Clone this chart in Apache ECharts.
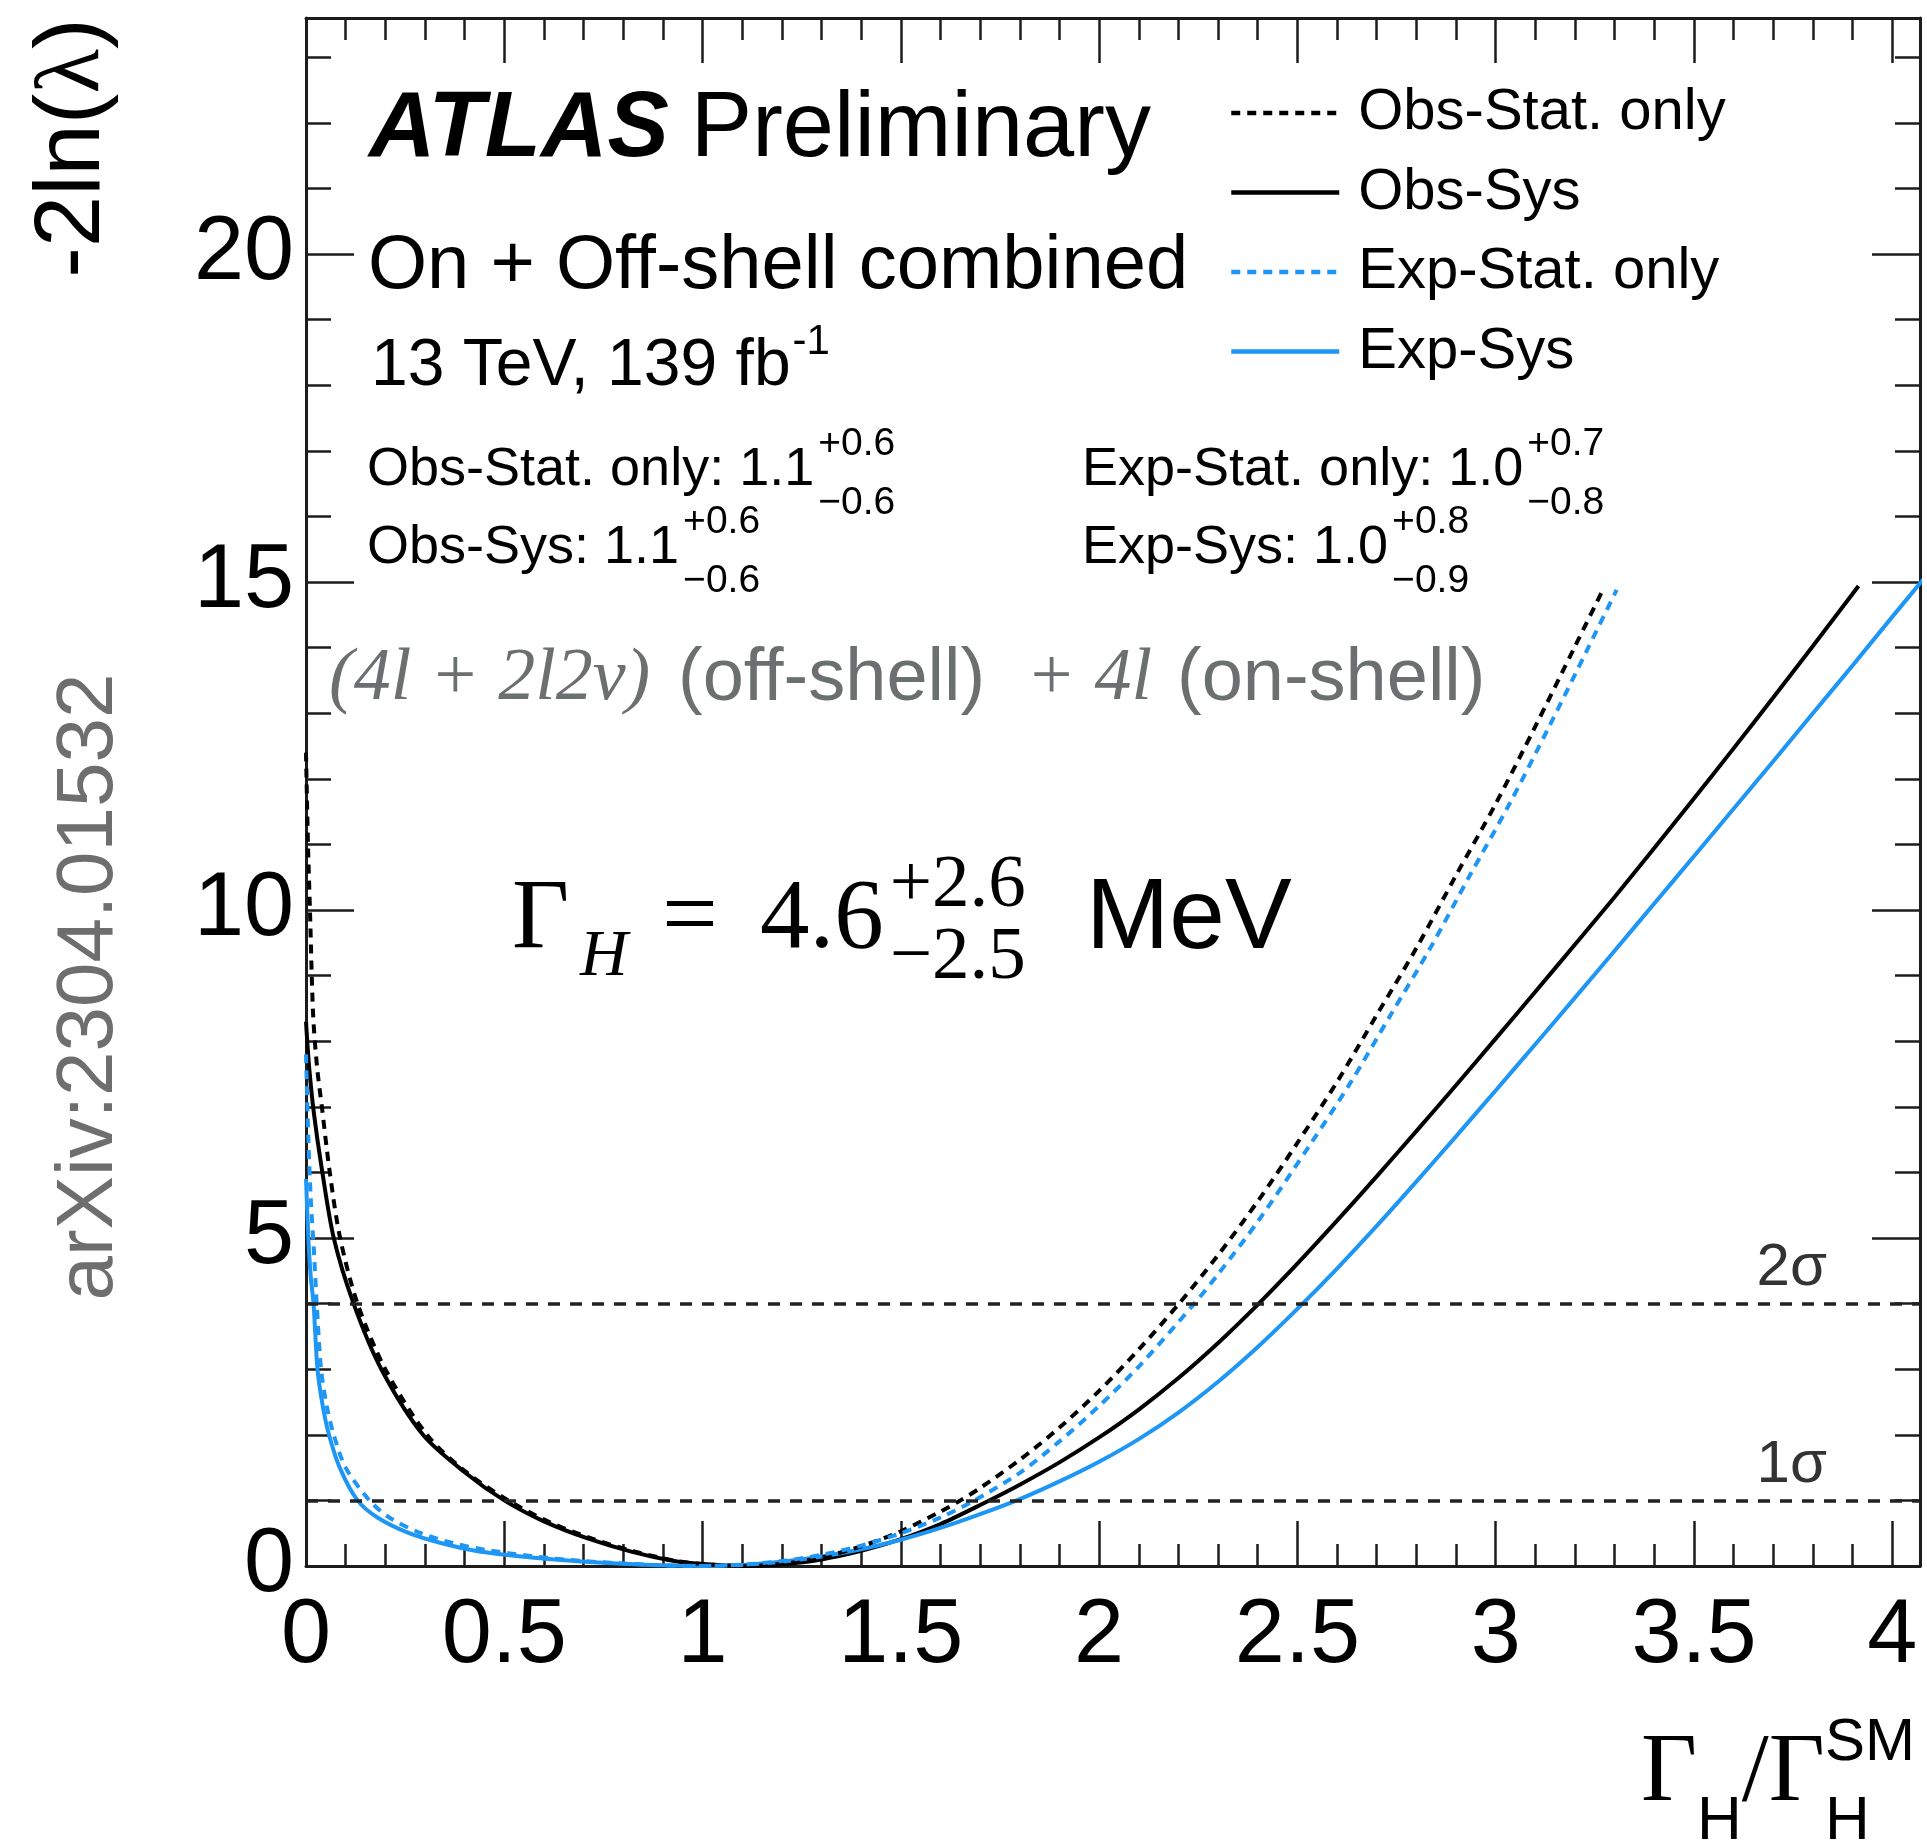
<!DOCTYPE html>
<html>
<head>
<meta charset="utf-8">
<script src="https://cdn.jsdelivr.net/npm/echarts@6/dist/echarts.min.js"></script>
<style>
  html, body { margin: 0; padding: 0; background: #ffffff; }
  #chart { width: 1927px; height: 1848px; }
</style>
</head>
<body>
<div id="chart"></div>
<script>
// Likelihood scans of the Higgs width ratio: [Gamma_H / Gamma_H^SM, -2 ln(lambda)]
const obsStat = [[0.0,12.4],[0.005,11.0],[0.01,10.0],[0.018,8.4],[0.028,7.6],[0.04,7.0],[0.06,6.0],[0.086,5.0],[0.13,4.0],[0.2,3.0],[0.305,2.0],[0.4,1.45],[0.51,1.0],[0.61,0.68],[0.72,0.42],[0.83,0.22],[0.93,0.08],[1.0,0.03],[1.1,0.0],[1.2,0.033],[1.3,0.13],[1.4,0.30],[1.5,0.53],[1.6,0.83],[1.65,1.0],[1.7,1.19],[1.8,1.62],[1.9,2.11],[2.0,2.67],[2.1,3.30],[2.2,3.99],[2.3,4.74],[2.4,5.56],[2.5,6.45],[2.6,7.38],[2.7,8.40],[2.8,9.42],[2.9,10.53],[3.0,11.62],[3.1,12.8],[3.2,14.02],[3.27,14.88]];
const obsSys = [[0.0,8.3],[0.008,7.6],[0.02,6.9],[0.04,6.05],[0.07,5.0],[0.12,4.0],[0.19,3.0],[0.295,2.0],[0.4,1.43],[0.5,1.0],[0.6,0.68],[0.71,0.42],[0.82,0.22],[0.925,0.08],[1.0,0.03],[1.1,0.0],[1.2,0.027],[1.3,0.10],[1.4,0.23],[1.5,0.41],[1.6,0.64],[1.7,0.93],[1.8,1.24],[1.9,1.58],[2.0,1.96],[2.1,2.385],[2.2,2.865],[2.3,3.40],[2.4,3.985],[2.5,4.61],[2.6,5.265],[2.7,5.94],[2.8,6.63],[2.9,7.33],[3.0,8.04],[3.1,8.755],[3.2,9.475],[3.3,10.20],[3.4,10.945],[3.5,11.70],[3.6,12.465],[3.7,13.24],[3.8,14.025],[3.915,14.94]];
const expStat = [[0.0,7.8],[0.006,6.5],[0.012,5.6],[0.02,4.8],[0.027,4.0],[0.038,3.0],[0.052,2.45],[0.07,2.0],[0.1,1.5],[0.16,1.0],[0.21,0.74],[0.29,0.5],[0.37,0.35],[0.46,0.24],[0.57,0.15],[0.69,0.08],[0.81,0.035],[0.9,0.01],[1.0,0.0],[1.1,0.02],[1.2,0.075],[1.3,0.17],[1.4,0.31],[1.5,0.5],[1.6,0.74],[1.68,0.98],[1.8,1.42],[1.9,1.9],[2.0,2.44],[2.1,3.04],[2.24,4.0],[2.3,4.45],[2.4,5.25],[2.535,6.45],[2.635,7.38],[2.735,8.4],[2.835,9.42],[2.935,10.53],[3.035,11.62],[3.135,12.8],[3.235,14.02],[3.305,14.88]];
const expSys = [[0.0,5.9],[0.006,5.0],[0.012,4.4],[0.019,4.0],[0.029,3.0],[0.042,2.45],[0.058,2.0],[0.085,1.5],[0.13,1.0],[0.18,0.74],[0.26,0.5],[0.34,0.35],[0.43,0.23],[0.55,0.14],[0.67,0.08],[0.8,0.035],[0.9,0.01],[1.0,0.0],[1.1,0.016],[1.2,0.064],[1.3,0.144],[1.4,0.256],[1.5,0.40],[1.6,0.58],[1.7,0.79],[1.8,1.02],[1.9,1.29],[2.0,1.59],[2.1,1.935],[2.2,2.34],[2.3,2.81],[2.4,3.34],[2.5,3.92],[2.6,4.535],[2.7,5.185],[2.8,5.86],[2.9,6.55],[3.0,7.25],[3.1,7.955],[3.2,8.665],[3.3,9.38],[3.4,10.10],[3.5,10.82],[3.6,11.545],[3.7,12.27],[3.8,13.0],[3.9,13.73],[4.0,14.47],[4.1,15.2]];

const seriesNames = ['Obs-Stat. only', 'Obs-Sys', 'Exp-Stat. only', 'Exp-Sys'];

// Axis ticks and labels
const xMajorTicks = [0, 0.5, 1, 1.5, 2, 2.5, 3, 3.5, 4];
const xTickLabels = ['0', '0.5', '1', '1.5', '2', '2.5', '3', '3.5', '4'];
const yMajorTicks = [0, 5, 10, 15, 20];
const yTickLabels = ['0', '5', '10', '15', '20'];
const xRange = [0, 4.07];
const yRange = [0, 23.6];

// Reference levels for 1 and 2 standard deviations
const sigmaLevels = [1, 4];
const sigmaLabels = ['1σ', '2σ'];

// Fit results printed in the plot
const fitResults = [
  { label: 'Obs-Stat. only: ', central: '1.1', up: '+0.6', down: '−0.6' },
  { label: 'Obs-Sys: ', central: '1.1', up: '+0.6', down: '−0.6' },
  { label: 'Exp-Stat. only: ', central: '1.0', up: '+0.7', down: '−0.8' },
  { label: 'Exp-Sys: ', central: '1.0', up: '+0.8', down: '−0.9' }
];
const widthResult = { central: '4.6', up: '+2.6', down: '−2.5', unit: 'MeV' };

const xMinorTicks = [];
for (let i = 0; i <= 40; i++) xMinorTicks.push(i / 10);
const yMinorTicks = [];
for (let i = 0; i <= 23; i++) yMinorTicks.push(i);

const SANS = '"Liberation Sans", Arial, Helvetica, sans-serif';
const SERIF = '"Liberation Serif", "Times New Roman", serif';
const INK = '#1c1c1c';
const BLUE = '#1e96f5';

const measureCtx = document.createElement('canvas').getContext('2d');
function widthOf(text, font) {
  measureCtx.font = font;
  return measureCtx.measureText(text).width;
}
function txt(text, x, y, font, fill, extra) {
  return Object.assign({
    type: 'text', silent: true, z: 50,
    style: { text: text, x: x, y: y, font: font, fill: fill || '#000', align: 'left', verticalAlign: 'middle' }
  }, extra || {});
}

function xAxisDef(position, ticks, len, mainLine, labels) {
  return {
    type: 'value', position: position, min: xRange[0], max: xRange[1],
    axisLine: { show: mainLine, onZero: false, lineStyle: { color: INK, width: 3 } },
    axisTick: { show: true, inside: true, length: len, customValues: ticks, lineStyle: { color: INK, width: 2.5 } },
    axisLabel: labels ? {
      show: true, customValues: xMajorTicks, margin: 26,
      fontFamily: SANS, fontSize: 90, color: '#000',
      formatter: function (v) { const i = xMajorTicks.indexOf(v); return i >= 0 ? xTickLabels[i] : ''; }
    } : { show: false },
    splitLine: { show: false }
  };
}
function yAxisDef(position, ticks, len, mainLine, labels) {
  return {
    type: 'value', position: position, min: yRange[0], max: yRange[1],
    axisLine: { show: mainLine, onZero: false, lineStyle: { color: INK, width: 3 } },
    axisTick: { show: true, inside: true, length: len, customValues: ticks, lineStyle: { color: INK, width: 2.5 } },
    axisLabel: labels ? {
      show: true, customValues: yMajorTicks, margin: 12,
      fontFamily: SANS, fontSize: 90, color: '#000',
      formatter: function (v) { const i = yMajorTicks.indexOf(v); return i >= 0 ? yTickLabels[i] : ''; }
    } : { show: false },
    splitLine: { show: false }
  };
}

function curve(name, data, color, dashed, z) {
  return {
    name: name, type: 'line', data: data, xAxisIndex: 0, yAxisIndex: 0,
    symbol: 'none', showSymbol: false, smooth: 0.3, clip: true, z: z,
    silent: true,
    lineStyle: { color: color, width: 4, type: dashed ? [9, 7] : 'solid' },
    itemStyle: { color: color }
  };
}

const series = [
  curve(seriesNames[0], obsStat, '#000000', true, 4),
  curve(seriesNames[1], obsSys, '#000000', false, 3),
  curve(seriesNames[2], expStat, BLUE, true, 4),
  curve(seriesNames[3], expSys, BLUE, false, 3)
];
series[0].markLine = {
  silent: true, symbol: ['none', 'none'], animation: false,
  lineStyle: { color: '#222222', width: 3.5, type: [12, 10] },
  label: {
    position: 'insideEndTop', formatter: function (p) { return p.name; },
    fontFamily: SANS, fontSize: 60, color: '#333333', distance: 5, padding: [0, 88, 0, 0]
  },
  emphasis: { disabled: true },
  data: sigmaLevels.map(function (v, i) { return { yAxis: v, name: sigmaLabels[i] }; })
};

// Text annotations
const graphics = [];
const atlasFont = 'italic bold 92px ' + SANS;
graphics.push(txt('ATLAS', 369, 131, atlasFont));
graphics.push(txt('Preliminary', 369 + widthOf('ATLAS', atlasFont) + 22, 131, '92px ' + SANS));
graphics.push(txt('On + Off-shell combined', 368, 267, '76px ' + SANS));
const lumiFont = '66px ' + SANS;
graphics.push(txt('13 TeV, 139 fb', 371, 367, lumiFont));
graphics.push(txt('-1', 371 + widthOf('13 TeV, 139 fb', lumiFont) + 2, 342, '42px ' + SANS));

const resFont = '54px ' + SANS;
const scriptFont = '39px ' + SANS;
const resPos = [[367, 470], [367, 548], [1082, 470], [1082, 548]];
fitResults.forEach(function (r, i) {
  const x = resPos[i][0], y = resPos[i][1];
  const main = r.label + r.central;
  graphics.push(txt(main, x, y, resFont));
  const sx = x + widthOf(main, resFont) + 4;
  graphics.push(txt(r.up, sx, y - 26, scriptFont));
  graphics.push(txt(r.down, sx, y + 33, scriptFont));
});

const GRAY = '#6b6f70';
graphics.push(txt('(4l + 2l2ν)', 329, 680, 'italic 74px ' + SERIF, GRAY));
graphics.push(txt('(off-shell)', 678, 680, '74px ' + SANS, GRAY));
graphics.push(txt('+ 4l', 1026, 680, 'italic 74px ' + SERIF, GRAY));
graphics.push(txt('(on-shell)', 1177, 680, '74px ' + SANS, GRAY));

// Gamma_H = 4.6 +2.6 -2.5 MeV
const bigSerif = '99px ' + SERIF;
const midSerif = '75px ' + SERIF;
graphics.push(txt('Γ', 512, 921, bigSerif));
graphics.push(txt('H', 580, 958, 'italic 66px ' + SERIF));
graphics.push(txt('=', 662, 921, bigSerif));
graphics.push(txt(widthResult.central, 760, 921, bigSerif));
const wsx = 760 + widthOf(widthResult.central, bigSerif) + 6;
graphics.push(txt(widthResult.up, wsx, 886, midSerif));
graphics.push(txt(widthResult.down, wsx, 958, midSerif));
graphics.push(txt(widthResult.unit, 1086, 920, '100px ' + SANS));

// x-axis title: Gamma_H / Gamma_H^SM
const axSerif = '97px ' + SERIF;
const subSans = '62px ' + SANS;
let ax = 1641;
graphics.push(txt('Γ', ax, 1775, axSerif)); ax += widthOf('Γ', axSerif);
graphics.push(txt('H', ax, 1822, subSans)); ax += widthOf('H', subSans);
graphics.push(txt('/', ax, 1775, axSerif)); ax += widthOf('/', axSerif);
graphics.push(txt('Γ', ax, 1775, axSerif)); ax += widthOf('Γ', axSerif);
graphics.push(txt('H', ax, 1822, subSans));
graphics.push(txt('SM', ax, 1743, '60px ' + SANS));

// y-axis title, rotated
graphics.push({
  type: 'text', silent: true, x: 74, y: 148, rotation: Math.PI / 2, z: 50,
  style: {
    text: '{a|-2ln(}{b|λ}{a|)}', x: 0, y: 0, align: 'center', verticalAlign: 'middle',
    rich: {
      a: { fontFamily: SANS, fontSize: 92, fill: '#000', color: '#000' },
      b: { fontFamily: SERIF, fontSize: 92, fill: '#000', color: '#000' }
    }
  }
});
// reference tag along the left margin
graphics.push({
  type: 'text', silent: true, x: 90, y: 987, rotation: Math.PI / 2, z: 50,
  style: { text: 'arXiv:2304.01532', x: 0, y: 0, align: 'center', verticalAlign: 'middle', font: '80px ' + SANS, fill: '#6e6e6e' }
});

const chart = echarts.init(document.getElementById('chart'), null, { renderer: 'canvas' });
chart.setOption({
  animation: false,
  backgroundColor: '#ffffff',
  grid: { left: 306, right: 7, top: 18, bottom: 282, containLabel: false, outerBoundsMode: 'none' },
  xAxis: [
    xAxisDef('bottom', xMajorTicks, 45, true, true),
    xAxisDef('bottom', xMinorTicks, 22, false, false),
    xAxisDef('top', xMajorTicks, 45, true, false),
    xAxisDef('top', xMinorTicks, 22, false, false)
  ],
  yAxis: [
    yAxisDef('left', yMajorTicks, 48, true, true),
    yAxisDef('left', yMinorTicks, 25, false, false),
    yAxisDef('right', yMajorTicks, 48, true, false),
    yAxisDef('right', yMinorTicks, 25, false, false)
  ],
  legend: {
    orient: 'vertical', left: 1224, top: 78,
    itemWidth: 108, itemHeight: 20, itemGap: 19.5,
    selectedMode: false,
    data: seriesNames,
    itemStyle: { opacity: 0, borderWidth: 0 },
    lineStyle: { width: 4.5 },
    textStyle: { fontFamily: SANS, fontSize: 58, color: '#000', lineHeight: 60, padding: [0, 0, 0, 14] }
  },
  series: series,
  graphic: graphics
});
</script>
</body>
</html>
